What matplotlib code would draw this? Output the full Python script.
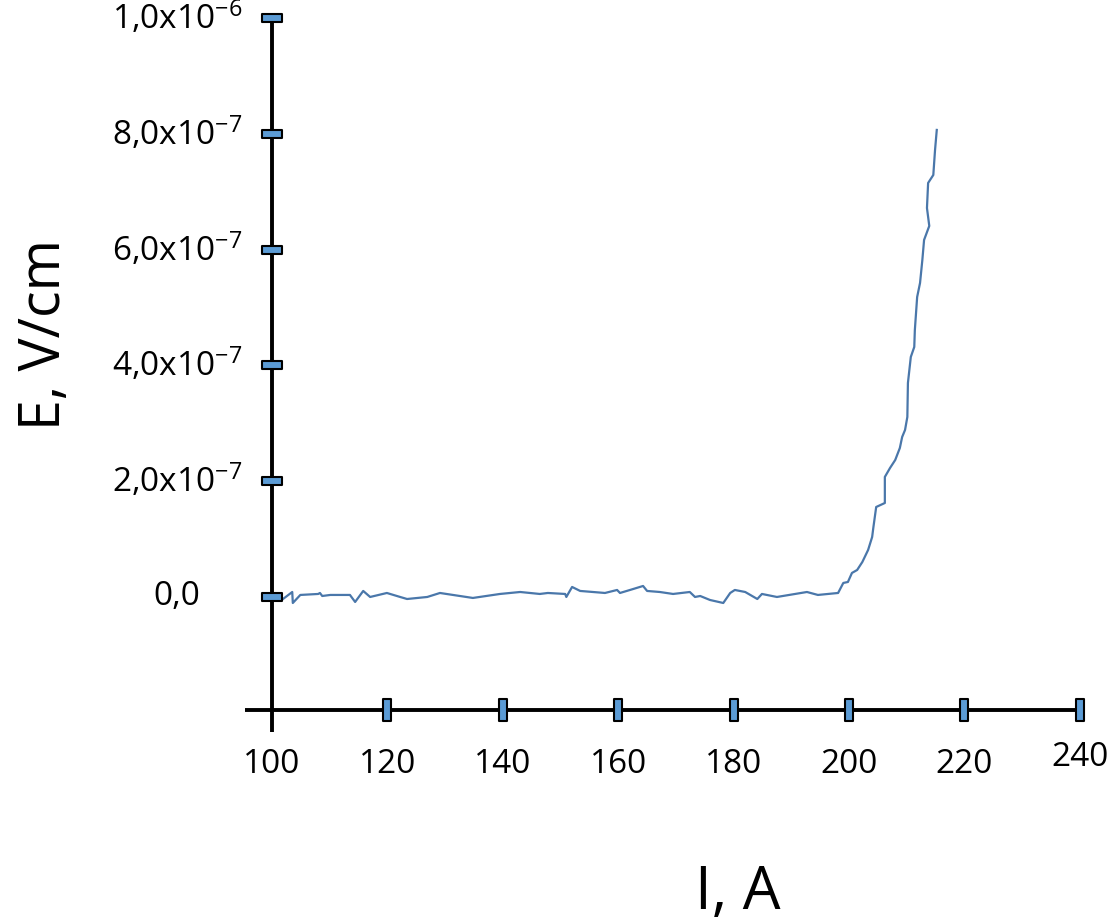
import matplotlib
matplotlib.use("Agg")
import matplotlib.pyplot as plt
from matplotlib.path import Path

plt.rcParams['font.family'] = ['Open Sans', 'DejaVu Sans']
plt.rcParams['mathtext.fontset'] = 'custom'
plt.rcParams['mathtext.rm'] = 'Open Sans'
plt.rcParams['mathtext.it'] = 'Open Sans'
plt.rcParams['mathtext.default'] = 'regular'

# ---- data ----
current_A = [101.9, 103.5, 103.6, 104.9, 108.0, 108.3, 108.7, 110.1, 113.5, 114.4,
             115.8, 117.0, 119.9, 122.2, 123.4, 126.9, 129.1, 134.8, 139.5, 143.0,
             146.4, 147.8, 150.8, 151.0, 152.0, 153.4, 157.7, 159.8, 160.3, 162.6,
             164.3, 165.0, 167.2, 169.5, 172.4, 173.3, 174.2, 175.9, 178.2, 179.4,
             180.2, 182.0, 184.1, 184.9, 187.5, 192.7, 194.6, 198.1,
             199.0, 199.8, 200.5, 201.4, 202.3, 203.3, 204.0, 204.2, 204.7, 206.2,
             206.2, 207.1, 208.0, 208.8, 209.2, 209.7, 210.1, 210.2, 210.7, 211.3,
             211.4, 211.8, 212.3, 212.7, 213.0, 213.9, 213.5, 213.7, 214.6, 214.9, 215.2]
field_e7 = [-0.035, 0.086, -0.104, 0.035, 0.052, 0.069, 0.017, 0.035, 0.035, -0.086,
            0.104, 0.0, 0.069, 0.0, -0.035, 0.0, 0.069, -0.017, 0.052, 0.086,
            0.052, 0.069, 0.052, 0.0, 0.173, 0.104, 0.069, 0.121, 0.069, 0.138,
            0.19, 0.104, 0.086, 0.052, 0.086, 0.0, 0.017, -0.052, -0.104, 0.069,
            0.121, 0.086, -0.035, 0.052, 0.0, 0.086, 0.035, 0.069,
            0.242, 0.259, 0.415, 0.466, 0.604, 0.812, 1.036, 1.192, 1.554, 1.623,
            2.073, 2.228, 2.366, 2.573, 2.763, 2.884, 3.109, 3.696, 4.145, 4.318,
            4.611, 5.181, 5.423, 5.820, 6.166, 6.408, 6.718, 7.150, 7.288, 7.720, 8.066]
field_V_cm = [v * 1e-7 for v in field_e7]

x_ticks = [120, 140, 160, 180, 200, 220, 240]
x_tick_labels = ['100', '120', '140', '160', '180', '200', '220', '240']
x_label_pos = [100, 120, 140, 160, 180, 200, 220, 240]
y_ticks = [0.0, 2e-7, 4e-7, 6e-7, 8e-7, 1e-6]
y_tick_labels = ['0,0', r'2,0x10$^{-7}$', r'4,0x10$^{-7}$', r'6,0x10$^{-7}$',
                 r'8,0x10$^{-7}$', r'1,0x10$^{-6}$']

x_axis_y = -1.95e-7
y_axis_x = 100

# ---- figure ----
fig = plt.figure(figsize=(11.12, 9.22), dpi=100)
ax = fig.add_axes([0.2187, 0.2018, 0.7576, 0.7913])
ax.set_xlim(95, 241)
ax.set_ylim(-2.4e-7, 1.02e-6)
ax.axis('off')

# axis lines
ax.plot([95.3, 240.4], [x_axis_y, x_axis_y], color='black', lw=2.8, zorder=2,
        solid_capstyle='butt', clip_on=False)
ax.plot([y_axis_x, y_axis_x], [-2.33e-7, 1e-6], color='black', lw=2.8, zorder=2,
        solid_capstyle='butt', clip_on=False)

# data curve
ax.plot(current_A, field_V_cm, color='#4a77aa', lw=1.6, zorder=3,
        solid_joinstyle='round')

# tick markers (blue rectangles)
hrect = Path([(-1, -0.35), (1, -0.35), (1, 0.35), (-1, 0.35), (-1, -0.35)],
             [Path.MOVETO, Path.LINETO, Path.LINETO, Path.LINETO, Path.CLOSEPOLY])
vrect = Path([(-0.36, -1), (0.36, -1), (0.36, 1), (-0.36, 1), (-0.36, -1)],
             [Path.MOVETO, Path.LINETO, Path.LINETO, Path.LINETO, Path.CLOSEPOLY])
ax.plot([y_axis_x] * len(y_ticks), y_ticks, ls='none', marker=hrect, markersize=14.5,
        mfc='#5b9bd5', mec='black', mew=1.5, zorder=4, clip_on=False)
ax.plot(x_ticks, [x_axis_y] * len(x_ticks), ls='none', marker=vrect, markersize=16,
        mfc='#5b9bd5', mec='black', mew=1.5, zorder=4, clip_on=False)

# tick labels
for xv, lab in zip(x_label_pos, x_tick_labels):
    yoff = -2.78e-7 if xv == 240 else -2.90e-7
    ax.text(xv, yoff, lab, ha='center', va='center', fontsize=24, clip_on=False)
for yv, lab in zip(y_ticks, y_tick_labels):
    ax.text(83.5, yv, lab, ha='center', va='center', fontsize=24, clip_on=False)

# axis titles
fig.text(0.0405, 0.6367, 'E, V/cm', rotation=90, ha='center', va='center', fontsize=40)
fig.text(0.6637, 0.0315, 'I, A', ha='center', va='center', fontsize=43)

fig.savefig('out.png', dpi=100)
